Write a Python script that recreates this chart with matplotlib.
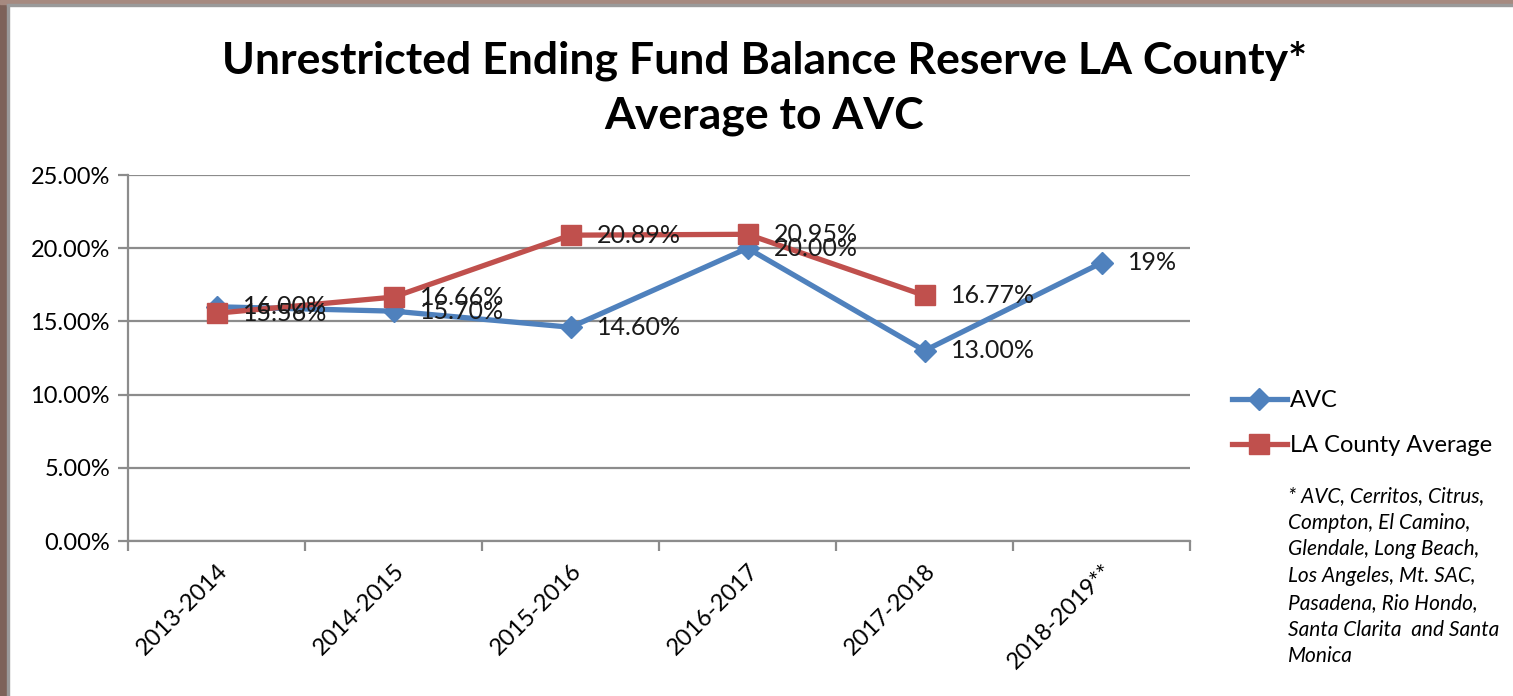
import matplotlib.pyplot as plt
from matplotlib.patches import Rectangle
from matplotlib.ticker import FuncFormatter, MultipleLocator
import numpy as np

# Datos
years = ['2013-2014', '2014-2015', '2015-2016', '2016-2017', '2017-2018', '2018-2019**']
avc = [16.00, 15.70, 14.60, 20.00, 13.00, 19.00]
avc_labels = ['16.00%', '15.70%', '14.60%', '20.00%', '13.00%', '19%']
la_avg = [15.56, 16.66, 20.89, 20.95, 16.77]
la_labels = ['15.56%', '16.66%', '20.89%', '20.95%', '16.77%']
footnote = ('* AVC, Cerritos, Citrus,\nCompton, El Camino,\nGlendale, Long Beach,\n'
            'Los Angeles, Mt. SAC,\nPasadena, Rio Hondo,\nSanta Clarita  and Santa\nMonica')

blue = '#4F81BD'
red = '#C0504D'
grid_c = '#8c8c8c'

plt.rcParams['font.family'] = ['Lato', 'DejaVu Sans']

fig = plt.figure(figsize=(15.13, 6.96), dpi=100)
fig.patch.set_facecolor('white')

# marco marron de la diapositiva
fig.patches.append(Rectangle((0, 0), 7 / 1513, 1, transform=fig.transFigure, color='#7d6259', zorder=0))
fig.patches.append(Rectangle((7 / 1513, 0), 2 / 1513, 1, transform=fig.transFigure, color='#9a9a9a', zorder=0))
fig.patches.append(Rectangle((0, 1 - 4 / 696), 1, 4 / 696, transform=fig.transFigure, color='#a68a80', zorder=0))
fig.patches.append(Rectangle((7 / 1513, 1 - 6 / 696), 1, 2 / 696, transform=fig.transFigure, color='#9a9a9a', zorder=0))

ax = fig.add_axes([128 / 1513, 1 - 541 / 696, (1190 - 128) / 1513, (541 - 175) / 696])

x = np.arange(len(years))
x_la = np.arange(len(la_avg))

ax.plot(x, avc, color=blue, lw=3.8, marker='D', ms=11, mec=blue, mfc=blue, label='AVC', zorder=3)
ax.plot(x_la, la_avg, color=red, lw=3.8, marker='s', ms=15, mec=red, mfc=red, label='LA County Average', zorder=4)

for xi, v, t in zip(x, avc, avc_labels):
    ax.annotate(t, (xi, v), xytext=(26, 0), textcoords='offset pixels', va='center', ha='left',
                fontsize=18, color='#1a1a1a', zorder=5)
for xi, v, t in zip(x_la, la_avg, la_labels):
    ax.annotate(t, (xi, v), xytext=(26, 0), textcoords='offset pixels', va='center', ha='left',
                fontsize=18, color='#1a1a1a', zorder=5)

ax.set_xlim(-0.5, len(years) - 0.5)
ax.set_ylim(0, 25)
ax.yaxis.set_major_locator(MultipleLocator(5))
ax.yaxis.set_major_formatter(FuncFormatter(lambda v, p: f'{v:.2f}%'))
ax.grid(axis='y', color=grid_c, lw=1.6, zorder=0)
ax.set_axisbelow(True)

ax.set_xticks(x)
ax.set_xticklabels(years, rotation=45, ha='right', rotation_mode='anchor', fontsize=17)
ax.set_xticks(np.arange(-0.5, len(years)), minor=True)
ax.tick_params(axis='x', which='major', length=0, pad=14)
ax.tick_params(axis='x', which='minor', length=7, width=1.6, color=grid_c, direction='out')
ax.tick_params(axis='y', length=7, width=1.6, color=grid_c, labelsize=17, pad=6)

for s in ['top', 'right']:
    ax.spines[s].set_visible(False)
for s in ['left', 'bottom']:
    ax.spines[s].set_color(grid_c)
    ax.spines[s].set_linewidth(1.6)

fig.text(0.505, 1 - 88 / 696, 'Unrestricted Ending Fund Balance Reserve LA County*\nAverage to AVC',
         ha='center', va='center', fontsize=32, fontweight='bold', linespacing=1.45)

fig.legend(loc='center left', bbox_to_anchor=(1211 / 1513, 1 - 423 / 696), frameon=False,
           fontsize=17, handlelength=2.3, handletextpad=0.15, labelspacing=1.0)

fig.text(1288 / 1513, 1 - 486 / 696, footnote, ha='left', va='top', fontsize=15,
         style='italic', linespacing=1.42)

fig.savefig('out.png', dpi=100)
